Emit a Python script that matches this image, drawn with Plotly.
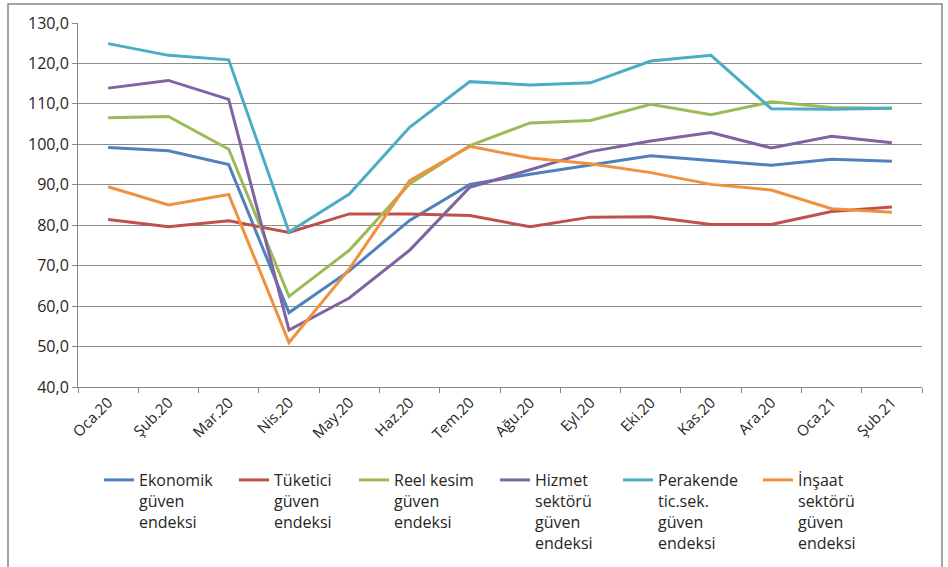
import plotly.graph_objects as go

months = ["Oca.20", "Şub.20", "Mar.20", "Nis.20", "May.20", "Haz.20", "Tem.20",
          "Ağu.20", "Eyl.20", "Eki.20", "Kas.20", "Ara.20", "Oca.21", "Şub.21"]

ekonomik = [99.2, 98.4, 95.0, 58.4, 68.7, 81.2, 90.1, 92.6, 94.9, 97.2, 96.0, 94.8, 96.3, 95.8]
tuketici = [81.4, 79.6, 81.1, 78.2, 82.8, 82.8, 82.4, 79.6, 82.0, 82.1, 80.2, 80.2, 83.4, 84.5]
reel = [106.6, 106.9, 98.8, 62.4, 73.8, 90.2, 99.7, 105.3, 105.9, 109.9, 107.3, 110.5, 109.1, 108.9]
hizmet = [113.9, 115.8, 111.1, 54.1, 62.0, 73.8, 89.4, 93.7, 98.2, 100.8, 102.9, 99.1, 102.0, 100.4]
perakende = [124.9, 122.0, 120.9, 78.3, 87.7, 104.2, 115.5, 114.7, 115.2, 120.6, 122.0, 108.8, 108.7, 108.9]
insaat = [89.5, 85.0, 87.6, 51.0, 69.2, 91.0, 99.5, 96.6, 95.2, 93.0, 90.1, 88.7, 84.1, 83.2]

names = ["Ekonomik<br>güven<br>endeksi", "Tüketici<br>güven<br>endeksi",
         "Reel kesim<br>güven<br>endeksi", "Hizmet<br>sektörü<br>güven<br>endeksi",
         "Perakende<br>tic.sek.<br>güven<br>endeksi", "İnşaat<br>sektörü<br>güven<br>endeksi"]
series = [ekonomik, tuketici, reel, hizmet, perakende, insaat]
colors = ["#4F81BD", "#C0504D", "#9BBB59", "#8064A2", "#4BACC6", "#F0913F"]

y_ticks = [40, 50, 60, 70, 80, 90, 100, 110, 120, 130]
y_labels = [f"{v},0" for v in y_ticks]

L, R, T, B = 78, 26, 23, 180
W, H = 948, 567
pw = W - L - R
ph = H - T - B

legend_px = [99, 234, 354, 495, 618, 758]
legend_ids = ["legend", "legend2", "legend3", "legend4", "legend5", "legend6"]

fig = go.Figure()
for i, (nm, vals, col) in enumerate(zip(names, series, colors)):
    fig.add_trace(go.Scatter(x=months, y=vals, name=nm, mode="lines",
                             line=dict(color=col, width=3), legend=legend_ids[i]))

font_fam = "Open Sans, Carlito, Liberation Sans, sans-serif"
layout_legends = {}
for i, lid in enumerate(legend_ids):
    layout_legends[lid] = dict(
        xref="container", yref="container",
        x=legend_px[i] / W, xanchor="left",
        y=1 - 463 / H, yanchor="top",
        orientation="v", bgcolor="rgba(0,0,0,0)",
        font=dict(family=font_fam, size=16, color="#262626"),
        itemwidth=30, tracegroupgap=0, valign="top",
    )

fig.update_layout(
    width=W, height=H,
    margin=dict(l=L, r=R, t=T, b=B, autoexpand=False),
    paper_bgcolor="white", plot_bgcolor="white",
    showlegend=True,
    font=dict(family=font_fam, size=15, color="#262626"),
    xaxis=dict(type="category", tickson="boundaries", ticks="outside", ticklen=5,
               tickcolor="#868686", showline=True, linecolor="#868686", linewidth=1,
               showgrid=False, tickangle=-45, automargin=False,
               tickfont=dict(family=font_fam, size=15, color="#262626"),
               range=[-0.5, len(months) - 0.5]),
    yaxis=dict(range=[40, 130], tickvals=y_ticks, ticktext=y_labels,
               ticks="outside", ticklen=5, tickcolor="#868686", automargin=False,
               showline=True, linecolor="#868686", linewidth=1,
               showgrid=True, gridcolor="#8C8C8C", gridwidth=1, zeroline=False,
               tickfont=dict(family=font_fam, size=16, color="#262626")),
    shapes=[dict(type="rect", xref="paper", yref="paper",
                 x0=(8 - L) / pw, x1=(942 - L) / pw,
                 y0=-0.6, y1=1 + (T - 4) / ph,
                 line=dict(color="#868686", width=1.5), fillcolor="rgba(0,0,0,0)",
                 layer="below")],
    **layout_legends,
)

fig.write_html("out.html")
